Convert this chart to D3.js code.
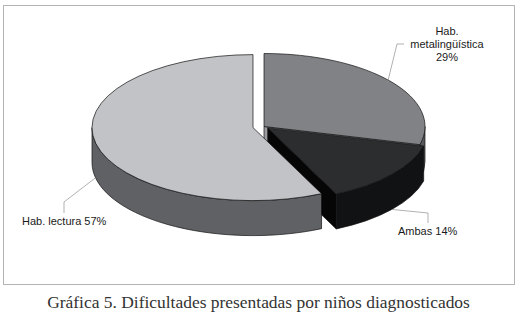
<!DOCTYPE html>
<html>
<head>
<meta charset="utf-8">
<script src="https://cdn.jsdelivr.net/npm/d3@7/dist/d3.min.js"></script>
<style>
  body { margin: 0; background: #fff; }
  svg { display: block; }
</style>
</head>
<body>
<svg id="chart" width="517" height="318"></svg>
<script>
// data (clockwise from 12 o'clock)
const categories = ['Hab. metalingüística', 'Ambas', 'Hab. lectura'];
const values = [29, 14, 57];
const caption = 'Gráfica 5. Dificultades presentadas por niños diagnosticados';

const svg = d3.select('#chart');

// frame around the chart area
svg.append('rect')
  .attr('x', 3.5).attr('y', 5.5)
  .attr('width', 511).attr('height', 279)
  .attr('fill', 'none')
  .attr('stroke', '#b4b4b4');

// 3d pie geometry
const cx = 264, cy = 126.5, rx = 161, ry = 73, depth = 35;
const explode = {'Hab. metalingüística': 0, 'Ambas': 0.03, 'Hab. lectura': 0.07};
const colors = {
  'Hab. metalingüística': {top: '#808285', side: '#55575a', cut: '#9b9da0'},
  'Ambas': {top: '#2b2d2f', side: '#111213', cut: '#060606'},
  'Hab. lectura': {top: '#c1c3c6', side: '#5f6164', cut: '#8a8c8e'}
};

const total = d3.sum(values);
const pie = d3.pie().sort(null).value(d => d.value);
const slices = pie(categories.map((c, i) => ({label: c, value: values[i]})));

const arcGen = d3.arc().innerRadius(0).outerRadius(rx);

slices.forEach(s => {
  const mid = (s.startAngle + s.endAngle) / 2;
  const e = explode[s.data.label];
  s.c = {x: cx + e * rx * Math.sin(mid), y: cy - e * ry * Math.cos(mid)};
  s.mid = mid;
});

const pt = (s, a, h) => [s.c.x + rx * Math.sin(a), s.c.y - ry * Math.cos(a) + (h || 0)];

const g = svg.append('g')
  .attr('stroke', '#111')
  .attr('stroke-width', 0.7)
  .attr('stroke-linejoin', 'round');

slices.forEach(s => {
  const col = colors[s.data.label];
  const a0 = s.startAngle, a1 = s.endAngle;

  // outer side, only the part facing us
  const s0 = Math.max(a0, Math.PI / 2), s1 = Math.min(a1, 3 * Math.PI / 2);
  if (s1 > s0) {
    const large = (s1 - s0) > Math.PI ? 1 : 0;
    const t0 = pt(s, s0), t1 = pt(s, s1), b1 = pt(s, s1, depth), b0 = pt(s, s0, depth);
    g.append('path')
      .attr('class', 'side')
      .attr('fill', col.side)
      .attr('d', 'M' + t0 + 'A' + rx + ',' + ry + ' 0 ' + large + ' 1 ' + t1 +
        'L' + b1 + 'A' + rx + ',' + ry + ' 0 ' + large + ' 0 ' + b0 + 'Z');
  }

  // cut faces turned toward the viewer
  const cut = a => {
    const t = pt(s, a), b = pt(s, a, depth);
    g.append('path')
      .attr('class', 'cut')
      .attr('fill', col.cut)
      .attr('d', 'M' + [s.c.x, s.c.y] + 'L' + t + 'L' + b + 'L' + [s.c.x, s.c.y + depth] + 'Z');
  };
  if (Math.sin(a1) > 1e-6) cut(a1);
  if (Math.sin(a0) < -1e-6) cut(a0);

  // top face
  g.append('path')
    .attr('class', 'top')
    .attr('fill', col.top)
    .attr('vector-effect', 'non-scaling-stroke')
    .attr('transform', 'translate(' + s.c.x + ',' + s.c.y + ') scale(1,' + (ry / rx) + ')')
    .attr('d', arcGen(s));
});

// labels with leader lines
const labelLayout = {
  'Hab. metalingüística': {r: 0.97, h: 0, path: [[397, 44], [404, 44]], x: 447, y: 34.5, anchor: 'middle', wrap: true},
  'Ambas': {r: 1, h: depth, path: [[428, 213], [428, 223]], x: 398, y: 235, anchor: 'start'},
  'Hab. lectura': {r: 1, h: depth, at: 258, path: [[64, 202], [64, 213]], x: 22, y: 225, anchor: 'start'}
};

const labels = svg.append('g')
  .attr('font-family', 'Liberation Sans, Arial, sans-serif')
  .attr('font-size', 11)
  .attr('fill', '#1a1a1a');

slices.forEach(s => {
  const L = labelLayout[s.data.label];
  const a = L.at !== undefined ? L.at * Math.PI / 180 : s.mid;
  const start = [s.c.x + L.r * rx * Math.sin(a), s.c.y - L.r * ry * Math.cos(a) + L.h];
  svg.append('path')
    .attr('fill', 'none')
    .attr('stroke', '#8f8f8f')
    .attr('stroke-width', 0.7)
    .attr('d', d3.line()([start].concat(L.path)));

  const pct = Math.round(s.data.value / total * 100) + '%';
  const words = s.data.label.split(' ');
  const lines = L.wrap ? [words[0], words.slice(1).join(' '), pct] : [s.data.label + ' ' + pct];
  const t = labels.append('text')
    .attr('text-anchor', L.anchor);
  lines.forEach((ln, i) => {
    t.append('tspan').attr('x', L.x).attr('y', L.y + i * 13).text(ln);
  });
});

// caption
const cap = svg.append('text')
  .attr('x', 258.5).attr('y', 308)
  .attr('text-anchor', 'middle')
  .attr('font-family', 'Liberation Serif, serif')
  .attr('font-size', 16)
  .attr('fill', '#333')
  .text(caption);
const w = cap.node().getComputedTextLength();
cap.attr('font-size', 16 * 423 / w);
</script>
</body>
</html>
